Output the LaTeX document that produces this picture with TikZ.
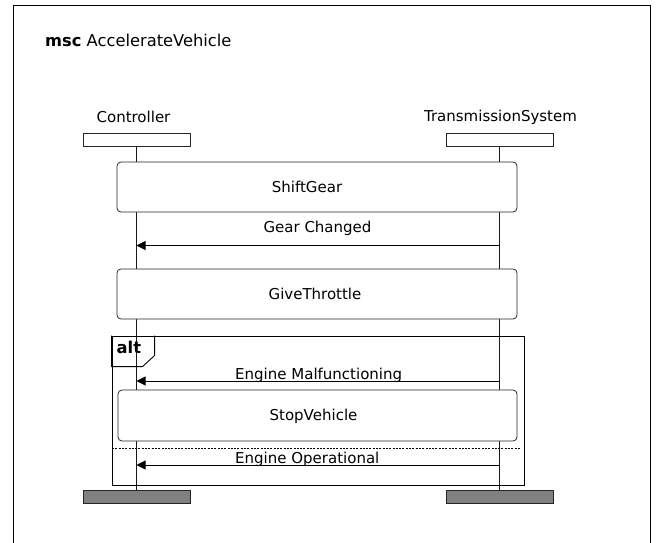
\documentclass[tikz,border=0pt]{standalone}
\usepackage{fontspec}
\setmainfont{DejaVu Sans}
\usetikzlibrary{arrows.meta}
\begin{document}
\begin{tikzpicture}[x=1pt,y=-1pt,
  font=\fontsize{15}{18}\selectfont,
  bigfont/.style={font=\fontsize{16.3}{19}\selectfont},
  headbox/.style={draw=black!85, fill=white, minimum width=107pt, minimum height=13pt, inner sep=0pt, line width=0.9pt},
  tailbox/.style={headbox, fill=black!50},
  action/.style={draw=black!85, fill=white, rounded corners=4pt, minimum width=400pt, minimum height=50pt, inner sep=0pt, line width=0.8pt},
  lifeline/.style={draw=black!90, line width=0.9pt},
  msg/.style={draw=black, line width=0.9pt, -{Triangle[length=9pt,width=9pt]}},
  lbl/.style={inner sep=0pt}]
\useasboundingbox (0,0) rectangle (656,543);
% outer diagram frame (open at the bottom)
\draw[line width=0.9pt] (13,560) -- (13,5.5) -- (650,5.5) -- (650,560);
\node[lbl, bigfont, anchor=west] (title) at (45,40) {\textbf{msc} AccelerateVehicle};

% instance heads and ends
\node[lbl] (ctrlname) at (133.5,117) {Controller};
\node[lbl] (tsname) at (500.5,117) {TransmissionSystem};
\node[headbox] (ctrl) at (136.5,139.5) {};
\node[headbox] (ts) at (499.5,139.5) {};
\node[tailbox] (ctrlend) at (136.5,496.5) {};
\node[tailbox] (tsend) at (499.5,496.5) {};

% lifelines
\draw[lifeline] (ctrl.south) -- (ctrlend.north);
\draw[lifeline] (ts.south) -- (tsend.north);

% actions
\node[action] (shift) at (317,187) {};
\node[lbl] (shiftlbl) at (307,187) {ShiftGear};
\node[action] (throttle) at (317,294) {};
\node[lbl] (throttlelbl) at (315,294) {GiveThrottle};

% Gear Changed message
\coordinate (gcfrom) at (499.5,245.5);
\coordinate (gcto) at (136.5,245.5);
\draw[msg] (gcfrom) -- (gcto);
\node[lbl] (gclbl) at (317.5,228) {Gear Changed};

% alt fragment
\node[draw=black, line width=0.9pt, minimum width=412pt, minimum height=149pt, inner sep=0pt] (alt) at (318,410.5) {};
\draw[line width=0.9pt] (alt.north west) -- ++(0,31) -- ++(31,0) -- ++(12,-11) -- ++(0,-20);
\node[lbl, bigfont, anchor=west] (altlbl) at (116.5,347.5) {\textbf{alt}};

\coordinate (emfrom) at (499.5,381);
\coordinate (emto) at (136.5,381);
\draw[msg] (emfrom) -- (emto);
\node[lbl, anchor=west] (emlbl) at (235,375) {Engine Malfunctioning};

\node[action, minimum width=399pt, minimum height=51pt] (stop) at (317.5,415.5) {};
\node[lbl] (stoplbl) at (313.5,416) {StopVehicle};

% operand separator
\coordinate (sepl) at (112,448);
\coordinate (sepr) at (521,448);
\draw[line width=0.8pt, dash pattern=on 2pt off 1.3pt] (sepl) -- (sepr);

\coordinate (eofrom) at (499.5,465);
\coordinate (eoto) at (136.5,465);
\draw[msg] (eofrom) -- (eoto);
\node[lbl, anchor=west] (eolbl) at (235,459) {Engine Operational};
\end{tikzpicture}
\end{document}
